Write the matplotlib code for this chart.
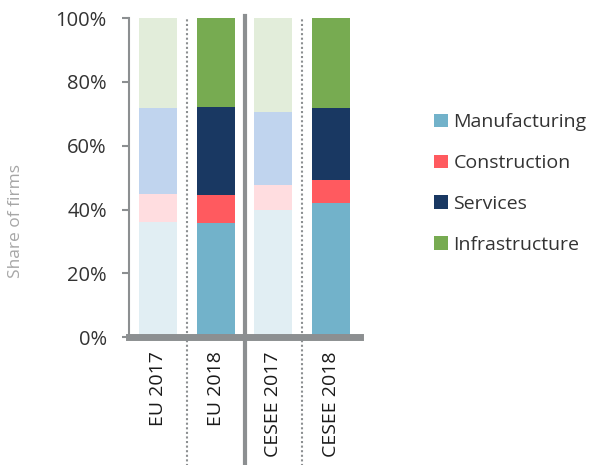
import numpy as np
import matplotlib
matplotlib.use('Agg')
import matplotlib.pyplot as plt
from matplotlib.patches import Patch

plt.rcParams['font.family'] = ['Open Sans', 'DejaVu Sans']

## 数据 (share of firms, %)
groups = ['EU 2017', 'EU 2018', 'CESEE 2017', 'CESEE 2018']
sectors = ['Manufacturing', 'Construction', 'Services', 'Infrastructure']
manufacturing = [36.1, 35.9, 39.9, 41.9]
construction = [8.7, 8.6, 7.7, 7.3]
services = [27.1, 27.6, 22.9, 22.6]
infrastructure = [28.1, 27.9, 29.5, 28.2]

## 2018 颜色深, 2017 颜色浅
dark = ['#72B2CA', '#FF5A5F', '#193862', '#77AB51']
light = ['#E1EEF3', '#FFDDE0', '#C0D4EE', '#E2EDDA']
is_light = [True, False, True, False]

fig = plt.figure(figsize=(5.92, 4.65), dpi=100)
ax = fig.add_axes([0.218, 0.275, 0.390, 0.686])

x = np.arange(len(groups))
series = [manufacturing, construction, services, infrastructure]
bottom = np.zeros(len(groups))
for k, vals in enumerate(series):
    cols = [light[k] if lt else dark[k] for lt in is_light]
    ax.bar(x, vals, width=0.66, bottom=bottom, color=cols, linewidth=0, zorder=2)
    bottom += np.array(vals)

ax.set_xlim(-0.503, 3.50)
ax.set_ylim(0, 100)
ax.set_yticks(np.arange(0, 101, 20))
ax.set_yticklabels(['%d%%' % v for v in range(0, 101, 20)])

gray = '#8C8F91'
for s in ['top', 'right']:
    ax.spines[s].set_visible(False)
ax.spines['left'].set_color(gray)
ax.spines['left'].set_linewidth(1.5)
ax.spines['bottom'].set_color(gray)
ax.spines['bottom'].set_linewidth(5)
ax.spines['bottom'].set_zorder(3)

ax.tick_params(axis='y', length=5, width=1.5, color=gray, labelsize=14.5,
               labelcolor='#333333', pad=11)
ax.set_xticks(x)
ax.set_xticklabels(groups, rotation=90, va='top', ha='center')
ax.tick_params(axis='x', length=0, labelsize=14, labelcolor='#1a1a1a', pad=10)

## 分隔线
ax.axvline(1.5, ymin=-0.41, ymax=1.006, color=gray, lw=3, clip_on=False, zorder=4)
for xs in [0.5, 2.5]:
    ax.axvline(xs, ymin=-0.41, ymax=1.0, color=gray, lw=1.5, ls=(0, (1, 1.2)),
               clip_on=False, zorder=1)

ax.set_ylabel('Share of firms', color='#A6A6A6', fontsize=12.5)
ax.yaxis.set_label_coords(-0.455, 0.364)

handles = [Patch(facecolor=c, edgecolor='none') for c in dark]
fig.legend(handles, sectors, loc='upper left', bbox_to_anchor=(0.733, 0.756),
           frameon=False, fontsize=14, handlelength=0.7, handleheight=0.7,
           handletextpad=0.3, labelspacing=1.17, borderpad=0, borderaxespad=0,
           labelcolor='#333333')

fig.savefig('out.png', dpi=100)
